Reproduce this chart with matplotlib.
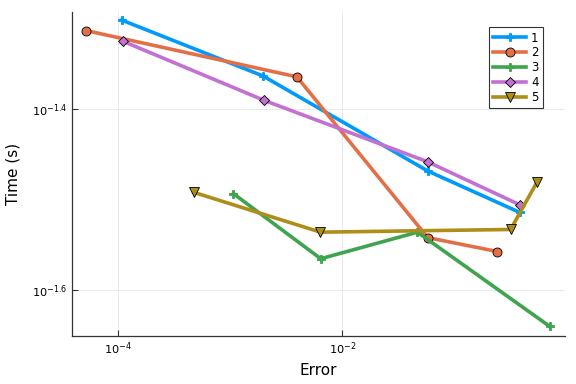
import numpy as np
import matplotlib
matplotlib.use("Agg")
import matplotlib.pyplot as plt
from matplotlib.ticker import FixedLocator, NullLocator

# values (log-log)
err1 = [1.09e-4, 1.96e-3, 0.0573, 0.377]
time1 = [0.0499, 0.0433, 0.0340, 0.0306]
err2 = [5.22e-5, 3.93e-3, 0.0573, 0.239]
time2 = [0.0486, 0.0432, 0.0287, 0.0277]
err3 = [1.07e-3, 6.41e-3, 0.0464, 0.697]
time3 = [0.0321, 0.0272, 0.0291, 0.0229]
err4 = [1.11e-4, 2.0e-3, 0.0573, 0.377]
time4 = [0.0473, 0.0407, 0.0348, 0.0312]
err5 = [4.77e-4, 6.37e-3, 0.313, 0.541]
time5 = [0.0322, 0.0291, 0.0293, 0.0331]

labels = ["1", "2", "3", "4", "5"]
colors = ["#009AFA", "#E36F47", "#3EA44E", "#C271D2", "#AC8E18"]
markers = ["P", "o", "P", "D", "v"]
sizes = [6.3, 6.5, 6.3, 5, 7]

x_ticks = [1e-4, 1e-2]
x_ticklabels = [r"$10^{-4}$", r"$10^{-2}$"]
y_ticks = [10 ** -1.4, 10 ** -1.6]
y_ticklabels = [r"$10^{-1.4}$", r"$10^{-1.6}$"]

fig = plt.figure(figsize=(5.76, 3.84), dpi=100)
ax = fig.add_axes([0.125, 0.125, 0.856, 0.844])

series = [(err1, time1), (err2, time2), (err3, time3), (err4, time4), (err5, time5)]
for (x, y), lab, c, m, s in zip(series, labels, colors, markers, sizes):
    mec = c if m == "P" else "black"
    ax.plot(x, y, color=c, lw=2.6, marker=m, ms=s, mfc=c, mec=mec, mew=0.6, label=lab)

ax.set_xscale("log")
ax.set_yscale("log")
ax.set_xlim(10 ** -4.406, 10 ** -0.02)
ax.set_ylim(10 ** -1.6508, 10 ** -1.2928)

ax.xaxis.set_major_locator(FixedLocator(x_ticks))
ax.xaxis.set_minor_locator(NullLocator())
ax.set_xticklabels(x_ticklabels)
ax.yaxis.set_major_locator(FixedLocator(y_ticks))
ax.yaxis.set_minor_locator(NullLocator())
ax.set_yticklabels(y_ticklabels)

ax.tick_params(direction="in", length=4, width=0.8, labelsize=8.2, color="#333333")
ax.grid(True, color="#e6e6e6", lw=0.6)
ax.spines["top"].set_visible(False)
ax.spines["right"].set_visible(False)
for sp in ["left", "bottom"]:
    ax.spines[sp].set_color("#333333")
    ax.spines[sp].set_linewidth(0.9)

ax.set_xlabel("Error", fontsize=11)
ax.set_ylabel("Time (s)", fontsize=11, labelpad=7)
ax.yaxis.set_label_coords(-0.105, 0.5)

leg = ax.legend(loc="upper right", fontsize=8.5, fancybox=False, framealpha=1,
                edgecolor="#333333", handlelength=2.8, borderpad=0.4,
                labelspacing=0.15, handletextpad=0.4, bbox_to_anchor=(0.968, 0.972))
leg.get_frame().set_linewidth(0.8)

fig.savefig("out.png", dpi=100)
